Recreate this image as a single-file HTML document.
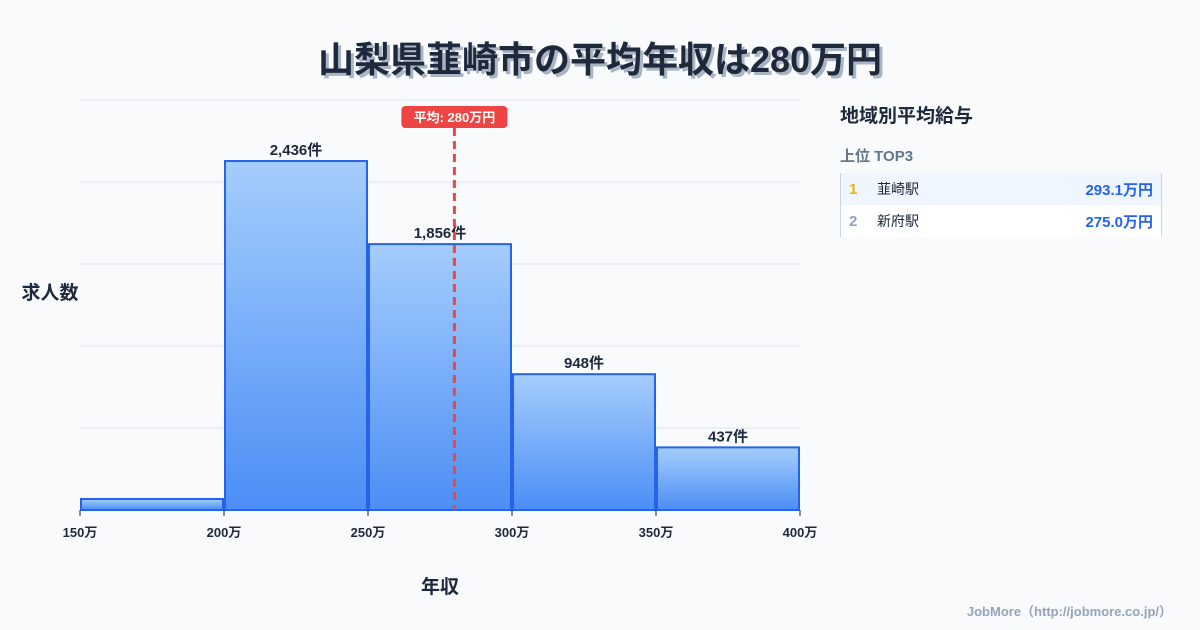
<!DOCTYPE html>
<html><head><meta charset="utf-8">
<style>
body{margin:0;background:#f8fafc;font-family:"Liberation Sans","Noto Sans CJK JP",sans-serif;}
#root{position:relative;width:1200px;height:630px;overflow:hidden;background:#f8fafc;}
.title{position:absolute;left:0;width:1200px;top:31px;text-align:center;font-size:36px;font-weight:bold;color:#1e293b;text-shadow:3px 3px 0 #a9b4c4;}
.panel{position:absolute;left:840px;top:96px;width:322px;}
.ph{font-size:19px;font-weight:bold;color:#1e293b;margin-top:5px;}
.sub{font-size:15px;font-weight:bold;color:#64748b;margin-top:17px;}
.list{margin-top:7px;border-left:1px solid #cbd5e1;border-right:1px solid #cbd5e1;}
.row{height:32px;display:flex;align-items:center;font-size:14px;color:#1e293b;}
.rk{width:24px;padding-left:8px;font-size:15px;font-weight:bold;}
.nm{flex:1;padding-left:4px;}
.val{padding-right:8px;font-size:15px;font-weight:bold;color:#2563eb;}
.foot{position:absolute;right:28px;bottom:10px;font-size:13px;font-weight:bold;color:#94a3b8;}
</style></head><body>
<div id="root">
<div class="title">山梨県韮崎市の平均年収は280万円</div>
<svg id="chart" width="1200" height="630" style="position:absolute;left:0;top:0">
<defs><linearGradient id="g" x1="0" y1="0" x2="0" y2="1"><stop offset="0" stop-color="#a5cdfd"/><stop offset="1" stop-color="#4b8ef5"/></linearGradient></defs>
</svg>
<div class="panel">
<div class="ph">地域別平均給与</div>
<div class="sub">上位 TOP3</div>
<div class="list">
<div class="row" style="background:#eff6ff"><span class="rk" style="color:#eab308">1</span><span class="nm">韮崎駅</span><span class="val">293.1万円</span></div>
<div class="row" style="background:#fff"><span class="rk" style="color:#94a3b8">2</span><span class="nm">新府駅</span><span class="val">275.0万円</span></div>
</div></div>
<div class="foot">JobMore（http://jobmore.co.jp/）</div>
</div>
<script>
const binStarts=[150,200,250,300,350];
const counts=[77,2436,1856,948,437];
const countLabels=["","2,436件","1,856件","948件","437件"];
const xTicks=[150,200,250,300,350,400];
const xTickLabels=["150万","200万","250万","300万","350万","400万"];
const meanValue=280;
const meanLabel="平均: 280万円";
const binWidth=50;
const yMax=2862;
const svg=document.getElementById('chart');
const NS='http://www.w3.org/2000/svg';
const X0=80,X1=800,Y0=510,Y1=100;
const xs=v=>X0+(v-150)/(400-150)*(X1-X0);
const ys=v=>Y0-v/yMax*(Y0-Y1);
function mk(t,a){const e=document.createElementNS(NS,t);for(const k in a)e.setAttribute(k,a[k]);svg.appendChild(e);return e;}
for(let i=0;i<=5;i++){const y=Y1+i*(Y0-Y1)/5;const l=mk('line',{x1:X0,x2:X1,y1:y,y2:y,stroke:'#e2e8f0','stroke-width':1});

}
counts.forEach((c,i)=>{const x=xs(binStarts[i])+1,w=xs(binStarts[i]+binWidth)-xs(binStarts[i])-2,y=ys(c);
const r=mk('rect',{x:x,y:y,width:w,height:Y0-y,fill:'url(#g)',stroke:'#2563eb','stroke-width':2});


if(countLabels[i]){const t=mk('text',{x:x+w/2,y:y-6,'text-anchor':'middle','font-size':15,'font-weight':'bold',fill:'#1e293b'});t.textContent=countLabels[i];

}});
xTicks.forEach((v,i)=>{const x=xs(v);const l=mk('line',{x1:x,x2:x,y1:Y0,y2:Y0+6,stroke:'#1e293b','stroke-width':1});


const t=mk('text',{x:x,y:Y0+27,'text-anchor':'middle','font-size':13,'font-weight':'bold',fill:'#1e293b'});t.textContent=xTickLabels[i];

});
const mx=xs(meanValue);
const ml=mk('line',{x1:mx,x2:mx,y1:128,y2:Y0,stroke:'#ef4444','stroke-width':3,'stroke-dasharray':'8,5'});


const mb=mk('rect',{x:mx-53,y:106,width:106,height:22,rx:4,fill:'#ef4444'});


const mt=mk('text',{x:mx,y:122,'text-anchor':'middle','font-size':13,'font-weight':'bold',fill:'#fff'});mt.textContent=meanLabel;


const yt=mk('text',{x:50,y:299,'text-anchor':'middle','font-size':19,'font-weight':'bold',fill:'#1e293b'});yt.textContent='求人数';


const xt=mk('text',{x:440,y:593,'text-anchor':'middle','font-size':19,'font-weight':'bold',fill:'#1e293b'});xt.textContent='年収';


</script>
</body></html>
